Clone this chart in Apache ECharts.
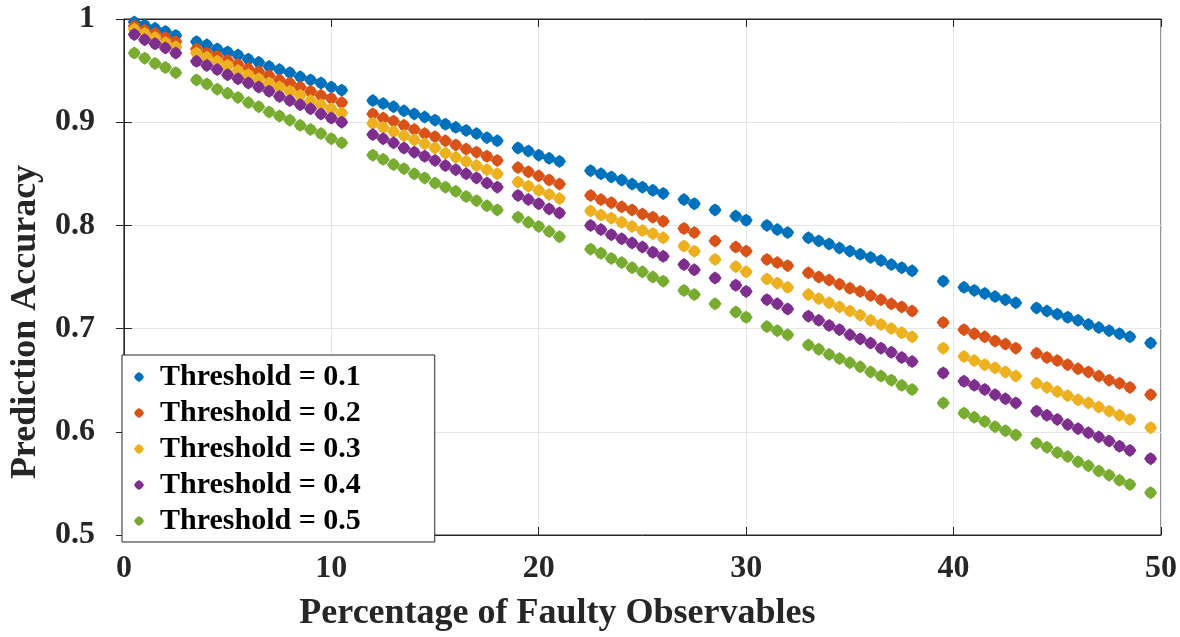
<!DOCTYPE html>
<html>
<head>
<meta charset="utf-8">
<script src="https://cdn.jsdelivr.net/npm/echarts@6/dist/echarts.min.js"></script>
<style>html,body{margin:0;padding:0;background:#fff}#c{width:1180px;height:637px}</style>
</head>
<body>
<div id="c"></div>
<script>
const xValues = [0.5,1,1.5,2,2.5,
  3.5,4,4.5,5,5.5,6,6.5,7,7.5,8,8.5,9,9.5,10,10.5,
  12,12.5,13,13.5,14,14.5,15,15.5,16,16.5,17,17.5,18,
  19,19.5,20,20.5,21,
  22.5,23,23.5,24,24.5,25,25.5,26,
  27,27.5,28.5,29.5,30,31,31.5,32,
  33,33.5,34,34.5,35,35.5,36,36.5,37,37.5,38,
  39.5,
  40.5,41,41.5,42,42.5,43,
  44,44.5,45,45.5,46,46.5,47,47.5,48,48.5,
  49.5];
const seriesNames = ['Threshold = 0.1','Threshold = 0.2','Threshold = 0.3','Threshold = 0.4','Threshold = 0.5'];
const acc01 = [0.997,0.994,0.991,0.988,0.984,
  0.978,0.975,0.971,0.968,0.965,0.961,0.958,0.954,0.951,0.948,0.944,0.941,0.938,0.934,0.931,
  0.921,0.918,0.915,0.911,0.908,0.905,0.902,0.898,0.895,0.892,0.889,0.885,0.882,
  0.875,0.872,0.868,0.865,0.862,
  0.853,0.850,0.847,0.844,0.840,0.837,0.834,0.831,
  0.825,0.821,0.815,0.809,0.805,0.800,0.796,0.793,
  0.788,0.785,0.782,0.778,0.775,0.772,0.769,0.766,0.762,0.759,0.756,
  0.746,
  0.740,0.737,0.734,0.731,0.728,0.725,
  0.720,0.717,0.714,0.711,0.708,0.704,0.701,0.698,0.695,0.692,
  0.686];
const acc02 = [0.993,0.989,0.986,0.982,0.978,
  0.971,0.967,0.964,0.960,0.956,0.952,0.949,0.945,0.941,0.938,0.934,0.930,0.926,0.923,0.919,
  0.908,0.904,0.901,0.897,0.893,0.889,0.886,0.882,0.878,0.874,0.871,0.867,0.863,
  0.856,0.852,0.848,0.844,0.840,
  0.829,0.825,0.822,0.818,0.815,0.811,0.808,0.804,
  0.797,0.793,0.785,0.779,0.775,0.767,0.764,0.761,
  0.754,0.750,0.747,0.743,0.739,0.736,0.732,0.728,0.724,0.721,0.717,
  0.706,
  0.699,0.695,0.692,0.688,0.685,0.681,
  0.676,0.672,0.669,0.665,0.661,0.658,0.654,0.650,0.647,0.643,
  0.636];
const acc03 = [0.990,0.986,0.982,0.977,0.973,
  0.967,0.963,0.959,0.955,0.950,0.946,0.942,0.938,0.934,0.930,0.926,0.921,0.917,0.913,0.909,
  0.899,0.895,0.891,0.887,0.883,0.879,0.875,0.870,0.866,0.862,0.858,0.854,0.850,
  0.842,0.838,0.834,0.830,0.826,
  0.814,0.810,0.807,0.803,0.799,0.795,0.792,0.788,
  0.780,0.775,0.767,0.760,0.755,0.748,0.744,0.740,
  0.733,0.729,0.725,0.721,0.717,0.713,0.708,0.704,0.700,0.696,0.692,
  0.681,
  0.673,0.669,0.665,0.662,0.658,0.654,
  0.647,0.643,0.639,0.635,0.631,0.628,0.624,0.620,0.616,0.612,
  0.604];
const acc04 = [0.985,0.980,0.976,0.972,0.967,
  0.959,0.955,0.951,0.946,0.942,0.938,0.934,0.930,0.925,0.921,0.917,0.913,0.908,0.904,0.900,
  0.888,0.884,0.880,0.875,0.871,0.867,0.863,0.858,0.854,0.850,0.846,0.841,0.837,
  0.829,0.825,0.821,0.816,0.812,
  0.800,0.796,0.791,0.787,0.783,0.779,0.774,0.770,
  0.762,0.757,0.749,0.742,0.736,0.728,0.724,0.719,
  0.712,0.708,0.703,0.699,0.694,0.690,0.686,0.681,0.677,0.672,0.668,
  0.657,
  0.649,0.645,0.641,0.636,0.632,0.628,
  0.620,0.616,0.612,0.607,0.603,0.599,0.595,0.591,0.586,0.582,
  0.574];
const acc05 = [0.967,0.962,0.957,0.953,0.948,
  0.941,0.937,0.932,0.928,0.924,0.919,0.915,0.910,0.906,0.902,0.897,0.893,0.889,0.884,0.880,
  0.868,0.864,0.859,0.855,0.850,0.846,0.841,0.837,0.833,0.828,0.824,0.819,0.815,
  0.808,0.803,0.799,0.794,0.789,
  0.777,0.773,0.768,0.764,0.759,0.755,0.750,0.746,
  0.737,0.733,0.724,0.716,0.711,0.702,0.698,0.694,
  0.684,0.680,0.675,0.671,0.667,0.663,0.658,0.654,0.650,0.645,0.641,
  0.628,
  0.618,0.614,0.610,0.605,0.601,0.597,
  0.589,0.585,0.580,0.576,0.571,0.567,0.562,0.558,0.553,0.549,
  0.541];
const seriesValues = [acc01, acc02, acc03, acc04, acc05];
const colors = ['#0072BD','#D95319','#EDB120','#7E2F8E','#77AC30'];

const FONT = '"Liberation Serif", "Times New Roman", serif';
const marker = 'path://M0,-10L6,-6L10,0L6,6L0,10L-6,6L-10,0L-6,-6Z';
const axisCol = '#262626';

const chart = echarts.init(document.getElementById('c'), null, {renderer: 'canvas'});
const common = {min: 0, max: 50, interval: 10};
chart.setOption({
  animation: false,
  backgroundColor: '#fff',
  grid: {left: 122, right: 16, top: 19, bottom: 96, show: true, borderColor: axisCol, borderWidth: 1, backgroundColor: 'transparent'},
  xAxis: [
    Object.assign({type: 'value', position: 'bottom',
      name: 'Percentage of Faulty Observables', nameLocation: 'middle', nameGap: 61,
      nameTextStyle: {fontFamily: FONT, fontWeight: 'bold', fontSize: 36, color: '#262626', padding: [0, 170, 0, 0]},
      axisLine: {show: true, lineStyle: {color: axisCol, width: 1}},
      axisTick: {show: true, inside: true, length: 8, lineStyle: {color: axisCol}},
      axisLabel: {fontFamily: FONT, fontWeight: 'bold', fontSize: 32, color: '#262626', margin: 18},
      splitLine: {show: true, lineStyle: {color: '#e6e6e6', width: 1}}
    }, common),
    Object.assign({type: 'value', position: 'top',
      axisLine: {show: true, lineStyle: {color: axisCol}},
      axisTick: {show: true, inside: true, length: 8, lineStyle: {color: axisCol}},
      axisLabel: {show: false}, splitLine: {show: false}
    }, common)
  ],
  yAxis: [
    {type: 'value', min: 0.5, max: 1, interval: 0.1, position: 'left',
      name: 'Prediction Accuracy', nameLocation: 'middle', nameGap: 75, nameRotate: 90,
      nameTextStyle: {fontFamily: FONT, fontWeight: 'bold', fontSize: 36, color: '#262626', padding: [0, 90, 0, 0]},
      axisLine: {show: true, lineStyle: {color: axisCol}},
      axisTick: {show: true, inside: true, length: 8, lineStyle: {color: axisCol}},
      axisLabel: {fontFamily: FONT, fontWeight: 'bold', fontSize: 32, color: '#262626', margin: 29,
        padding: [6, 0, 0, 0],
        formatter: v => String(parseFloat(v.toFixed(1)))},
      splitLine: {show: true, lineStyle: {color: '#e6e6e6', width: 1}}
    },
    {type: 'value', min: 0.5, max: 1, interval: 0.1, position: 'right',
      axisLine: {show: true, lineStyle: {color: axisCol}},
      axisTick: {show: true, inside: true, length: 8, lineStyle: {color: axisCol}},
      axisLabel: {show: false}, splitLine: {show: false}
    }
  ],
  legend: {
    orient: 'vertical', left: 122, top: 355,
    backgroundColor: '#fff', borderColor: axisCol, borderWidth: 1,
    padding: [7, 74, 6, 12], itemGap: 6, itemWidth: 16, itemHeight: 10,
    textStyle: {fontFamily: FONT, fontWeight: 'bold', fontSize: 30, color: '#000', padding: [0, 0, 0, 8]},
    data: seriesNames.map(n => ({name: n, icon: marker}))
  },
  series: seriesNames.map((n, i) => ({
    name: n, type: 'scatter', xAxisIndex: 0, yAxisIndex: 0,
    symbol: marker, symbolSize: 13,
    itemStyle: {color: colors[i], opacity: 1},
    data: xValues.map((x, j) => [x, seriesValues[i][j]])
  }))
});
</script>
</body>
</html>
